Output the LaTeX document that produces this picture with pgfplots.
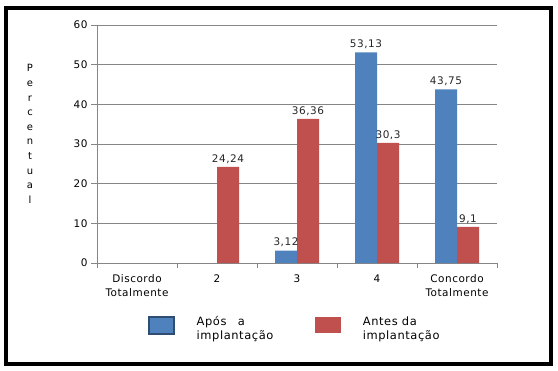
\documentclass[border=0pt]{standalone}
\usepackage{pgfplots}
\pgfplotsset{compat=1.18}
\usepackage{fontspec}
\setmainfont{DejaVu Sans}[LetterSpace=5]
\definecolor{barblue}{HTML}{4F81BD}
\definecolor{barred}{HTML}{C0504D}
\definecolor{gridgray}{HTML}{868686}
\begin{document}
\begin{tikzpicture}[x=1bp,y=1bp]
\useasboundingbox (-97,-107) rectangle (461,263);
\draw[line width=4bp] (-91,-101) rectangle (454,255);
\begin{axis}[
  at={(0,0)}, anchor=south west,
  scale only axis, width=400bp, height=238bp,
  xmin=-0.5, xmax=4.5, ymin=0, ymax=60,
  ybar=0pt, bar width=22bp,
  axis lines*=left,
  axis line style={gridgray, line width=0.8bp},
  ytick={0,10,...,60},
  ymajorgrids, grid style={gridgray, line width=0.8bp},
  xtick={0,1,2,3,4},
  xticklabels={{Discordo\\Totalmente},2,3,4,{Concordo\\Totalmente}},
  minor xtick={-0.5,0.5,1.5,2.5,3.5,4.5},
  major x tick style={draw=none},
  minor x tick style={gridgray, line width=0.8bp},
  y tick style={gridgray, line width=0.8bp},
  tick align=outside,
  major tick length=6bp, minor tick length=5bp,
  xticklabel style={align=center, font=\fontsize{10.5}{14}\selectfont, yshift=-2bp},
  yticklabel style={font=\fontsize{10.5}{12}\selectfont},
  /pgf/number format/assume math mode=true,
  /pgf/number format/use comma, /pgf/number format/fixed, /pgf/number format/precision=2,
  nodes near coords,
  every node near coord/.append style={font=\fontsize{10.5}{12}\selectfont, text=black!85},
  ylabel={P\\e\\r\\c\\e\\n\\t\\u\\a\\l},
  every axis y label/.style={at={(axis description cs:0,0.542)}, anchor=center, xshift=-67bp, align=center, font=\fontsize{10}{14.7}\selectfont},
  legend columns=2,
  legend cell align=left,
  legend style={draw=none, fill=none, at={(0.1275,-0.222)}, anchor=north west, inner sep=0pt,
    nodes={inner sep=0pt, align=left, font=\fontsize{11.5}{14}\selectfont},
    /tikz/every odd column/.append style={column sep=22bp},
    /tikz/every even column/.append style={column sep=42bp}},
]
\addplot[fill=barblue, draw=none,
  legend image code/.code={\draw[fill=barblue, draw=barblue!60!black, line width=1.5bp] (0bp,-5bp) rectangle (25bp,12bp);}]
  coordinates {(2,3.12) (3,53.13) (4,43.75)};
\addlegendentry{Após\quad a\\implantação}
\addplot[fill=barred, draw=none,
  legend image code/.code={\draw[fill=barred, draw=barred, line width=0.5bp] (0bp,-3bp) rectangle (25bp,12bp);}]
  coordinates {(1,24.24) (2,36.36) (3,30.3) (4,9.1)};
\addlegendentry{Antes da\\implantação}
\end{axis}
\end{tikzpicture}
\end{document}
